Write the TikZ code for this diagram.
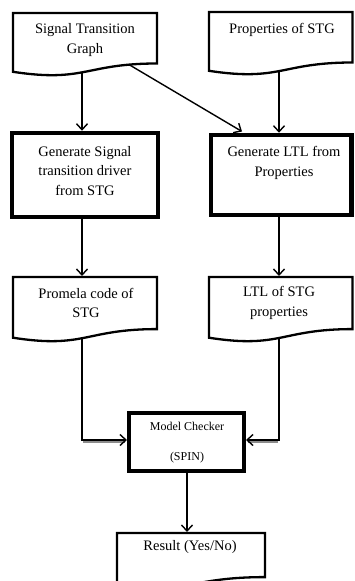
\documentclass[tikz,border=0pt]{standalone}
\usepackage{fontspec}
\setmainfont{Liberation Serif}
\usetikzlibrary{arrows.meta}
\begin{document}
\begin{tikzpicture}[x=1pt,y=-1pt,
  docshape/.style={draw=black,line width=2.3pt,fill=white,line join=miter},
  procbox/.style={draw=black,line width=4.5pt,fill=white,inner sep=0pt},
  lbl/.style={align=center,font=\fontsize{14.5}{19.5}\selectfont,inner sep=0pt},
  small/.style={align=center,font=\fontsize{12}{15.5}\selectfont,inner sep=0pt},
  flow/.style={draw=black,line width=1.4pt,-{Straight Barb[length=6pt,width=11pt,line width=1.4pt]}},
  shade/.style={draw=black!45,line width=3pt},
]
\useasboundingbox (0,0) rectangle (354,581);

% document shapes (wavy bottom edge)
\draw[docshape] (13,13) -- (157,13) -- (157,63.5)
  .. controls (85,63.5) and (85,82.8) .. (13,71.8) -- cycle;
\draw[docshape] (209,12) -- (352.5,12) -- (352.5,62.5)
  .. controls (280.75,62.5) and (280.75,81.8) .. (209,70.8) -- cycle;
\draw[docshape] (13,277) -- (157,277) -- (157,329.1)
  .. controls (85,329.1) and (85,349) .. (13,337.7) -- cycle;
\draw[docshape] (209,277) -- (352.5,277) -- (352.5,329.1)
  .. controls (280.75,329.1) and (280.75,349) .. (209,337.7) -- cycle;
\draw[docshape] (117,533) -- (265,533) -- (265,577.1)
  .. controls (191,577.1) and (191,593.9) .. (117,584.4) -- cycle;

% points on the wavy edges where connectors leave
\coordinate (d1) at (82,72);
\coordinate (d1r) at (129,64.6);
\coordinate (d2) at (279,71);
\coordinate (d5) at (82,338);
\coordinate (d6) at (279,338);

% labels of the document shapes
\node[lbl] (t1) at (85,40) {Signal Transition\\Graph};
\node[lbl] (t2) at (282,30) {Properties of STG};
\node[lbl] (t5) at (86,303) {Promela code of\\STG};
\node[lbl] (t6) at (279,303) {LTL of STG\\properties};
\node[lbl] (t8) at (190,547) {Result (Yes/No)};

% process boxes
\node[procbox,minimum width=146pt,minimum height=84pt] (b3) at (85,175) {};
\node[lbl] (t3) at (85,171) {Generate Signal\\transition driver\\from STG};
\node[procbox,minimum width=140.5pt,minimum height=80pt] (b4) at (281.25,175) {};
\node[lbl] (t4) at (284,163) {Generate LTL from\\Properties};
\node[procbox,line width=4pt,minimum width=115pt,minimum height=58pt] (b7) at (186.5,442) {};
\node[small] (t7) at (187,442.5) {Model Checker\\[15pt](SPIN)};

% connectors
\draw[flow] (d1) -- (d1 |- b3.north);
\draw[flow] (d2) -- (d2 |- b4.north);
\draw[flow] (d1r) -- (242,131.5);
\draw[flow] (d1 |- b3.south) -- (82,276);
\draw[flow] (d2 |- b4.south) -- (279,276);

\coordinate (k5) at (82,440);
\coordinate (k6) at (279,440);
\draw[shade] (83,441.5) -- (125,441.5);
\draw[shade] (278,441.5) -- (248,441.5);
\draw[flow] (d5) -- (k5) -- (k5 -| b7.west);
\draw[flow] (d6) -- (k6) -- (k6 -| b7.east);
\draw[flow] (b7.south -| 187,0) -- (187,532);
\end{tikzpicture}
\end{document}
